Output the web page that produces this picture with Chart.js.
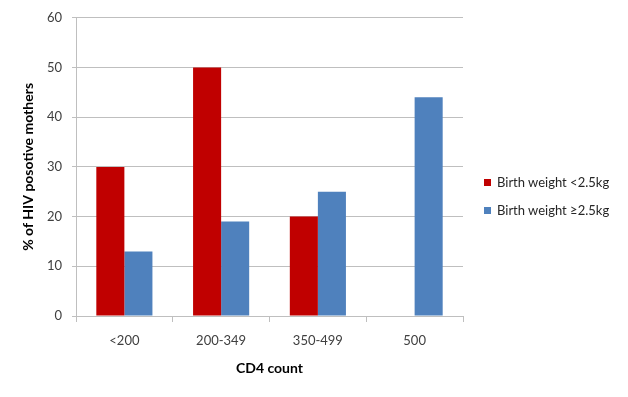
<!DOCTYPE html>
<html>
<head>
<meta charset="utf-8">
<script src="https://cdn.jsdelivr.net/npm/chart.js@4.4.0/dist/chart.umd.min.js"></script>
<style>
  body { margin: 0; background: #fff; }
  #wrap { position: relative; width: 628px; height: 397px; }
  #legenda { position: absolute; left: 484px; top: 175px; font: 13px Lato, "Liberation Sans", sans-serif; color: #262626; }
  #legenda div { height: 14px; line-height: 14px; margin-bottom: 14px; white-space: nowrap; }
  #legenda span { display: inline-block; width: 7px; height: 7px; margin-right: 6px; vertical-align: 1px; }
</style>
</head>
<body>
<div id="wrap">
  <canvas id="grafico" width="628" height="397"></canvas>
  <div id="legenda"></div>
</div>
<script>
// categorias do eixo X
const categorias = ["<200", "200-349", "350-499", "500"];
// % de mães HIV positivas por peso ao nascer
const pesoBaixo = [30, 50, 20, 0];
const pesoNormal = [13, 19, 25, 44];
const ticksY = [0, 10, 20, 30, 40, 50, 60];

const series = [
    { label: "Birth weight <2.5kg", data: pesoBaixo, cor: "#C00000" },
    { label: "Birth weight \u22652.5kg", data: pesoNormal, cor: "#4F81BD" },
];

const fonte = "Lato, 'Liberation Sans', sans-serif";
const cinza = "#BFBFBF";

// legenda em HTML, ao lado do gráfico
const legenda = document.getElementById("legenda");
series.forEach((s) => {
    const item = document.createElement("div");
    item.innerHTML = `<span style="background:${s.cor}"></span>${s.label}`;
    legenda.appendChild(item);
});

new Chart(document.getElementById("grafico"), {
    type: "bar",
    data: {
        labels: categorias,
        datasets: series.map((s) => ({
            label: s.label,
            data: s.data,
            backgroundColor: s.cor,
            borderWidth: 0,
            categoryPercentage: 0.58,
            barPercentage: 1.0,
        })),
    },
    options: {
        responsive: false,
        animation: false,
        layout: { padding: { left: 0, top: 17, right: 165, bottom: 0 } },
        plugins: {
            legend: { display: false },
            tooltip: { enabled: false },
        },
        scales: {
            x: {
                afterFit: (scale) => { scale.height = 81; },
                grid: {
                    offset: true,
                    drawOnChartArea: false,
                    drawTicks: true,
                    tickLength: 6,
                    color: cinza,
                },
                border: { color: cinza },
                ticks: { color: "#404040", font: { family: fonte, size: 13 }, padding: 11 },
                title: {
                    display: true,
                    text: "CD4 count",
                    color: "#000",
                    font: { family: fonte, size: 14, weight: "bold" },
                    padding: { top: 0, bottom: 20 },
                },
            },
            y: {
                min: 0,
                max: 60,
                afterFit: (scale) => { scale.width = 76; },
                afterBuildTicks: (scale) => { scale.ticks = ticksY.map((v) => ({ value: v })); },
                grid: { color: cinza, tickLength: 4 },
                border: { color: cinza },
                ticks: { color: "#404040", font: { family: fonte, size: 13 }, padding: 10 },
                title: {
                    display: true,
                    text: "% of HIV posotive mothers",
                    color: "#000",
                    font: { family: fonte, size: 14, weight: "bold" },
                    padding: { top: 20, bottom: 0 },
                },
            },
        },
    },
});
</script>
</body>
</html>
